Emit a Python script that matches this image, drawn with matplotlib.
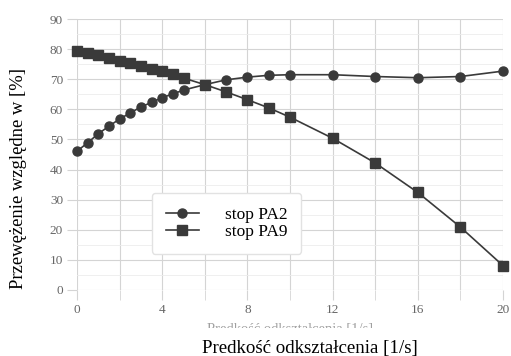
import numpy as np
import matplotlib.pyplot as plt
from matplotlib.patches import Rectangle

# dane
predkosc = [0, 0.5, 1, 1.5, 2, 2.5, 3, 3.5, 4, 4.5, 5, 6, 7, 8, 9, 10, 12, 14, 16, 18, 20]
pa2 = [46.1, 48.9, 51.9, 54.4, 56.8, 58.8, 60.8, 62.3, 63.9, 65.1, 66.4, 68.2, 69.8, 70.7,
       71.3, 71.5, 71.5, 70.9, 70.5, 70.9, 72.7]
pa9 = [79.5, 78.7, 77.9, 76.9, 76.1, 75.4, 74.5, 73.5, 72.6, 71.6, 70.4, 68.2, 65.8, 63.2,
       60.5, 57.4, 50.4, 42.2, 32.4, 20.9, 8.1]
xticks = [0, 4, 8, 12, 16, 20]
yticks = list(range(0, 91, 10))

plt.rcParams['font.family'] = ['Liberation Serif', 'DejaVu Serif']

fig = plt.figure(figsize=(5.11, 3.56), dpi=100)
ax = fig.add_axes([0.1507, 0.1854, 0.8336, 0.7612])

ax.plot(predkosc, pa2, '-o', color='#3a3a3a', lw=1.2, ms=6.5, clip_on=False,
        zorder=3, label='stop PA2')
ax.plot(predkosc, pa9, '-s', color='#3a3a3a', lw=1.2, ms=6.5, clip_on=False,
        zorder=3, label='stop PA9')

ax.set_xlim(0, 20)
ax.set_ylim(0, 90)
ax.set_xticks(xticks)
ax.set_xticks(np.arange(0, 21, 2), minor=True)
ax.set_yticks(yticks)
ax.set_yticks(np.arange(0, 91, 5), minor=True)
ax.grid(True, which='major', color='#d4d4d4', lw=0.8)
ax.grid(True, which='minor', axis='x', color='#d4d4d4', lw=0.8)
ax.grid(True, which='minor', axis='y', color='#ececec', lw=0.6)
for s in ax.spines.values():
    s.set_visible(False)
ax.tick_params(which='both', length=7, color='#d4d4d4', labelcolor='#666666',
               labelsize=9.5, pad=3)
ax.tick_params(which='minor', length=0)
ax.tick_params(axis='x', which='minor', length=7)

ax.set_ylabel('Przewężenie względne w [%]', fontsize=13.4)
ax.yaxis.set_label_coords(-0.117, 0.413)
fig.text(0.607, 0.0084, 'Predkość odkształcenia [1/s]', fontsize=13.6,
         ha='center', va='baseline')

# ślad po oryginalnym podpisie osi
fig.text(0.567, 0.0927, 'Predkość odkształcenia [1/s]', fontsize=10.5, color='#a0a0a0',
         ha='center', va='top')
fig.patches.append(Rectangle((0.3, 0.056), 0.5, 0.024, transform=fig.transFigure,
                             facecolor='white', edgecolor='none', zorder=5))

leg = ax.legend(loc='lower left', bbox_to_anchor=(0.176, 0.133), borderaxespad=0,
                fontsize=12.5, handlelength=1.9, handletextpad=1.5, borderpad=0.8,
                labelspacing=0.05, fancybox=True, framealpha=1,
                edgecolor='#e2e2e2')

plt.savefig('out.png', dpi=100)
